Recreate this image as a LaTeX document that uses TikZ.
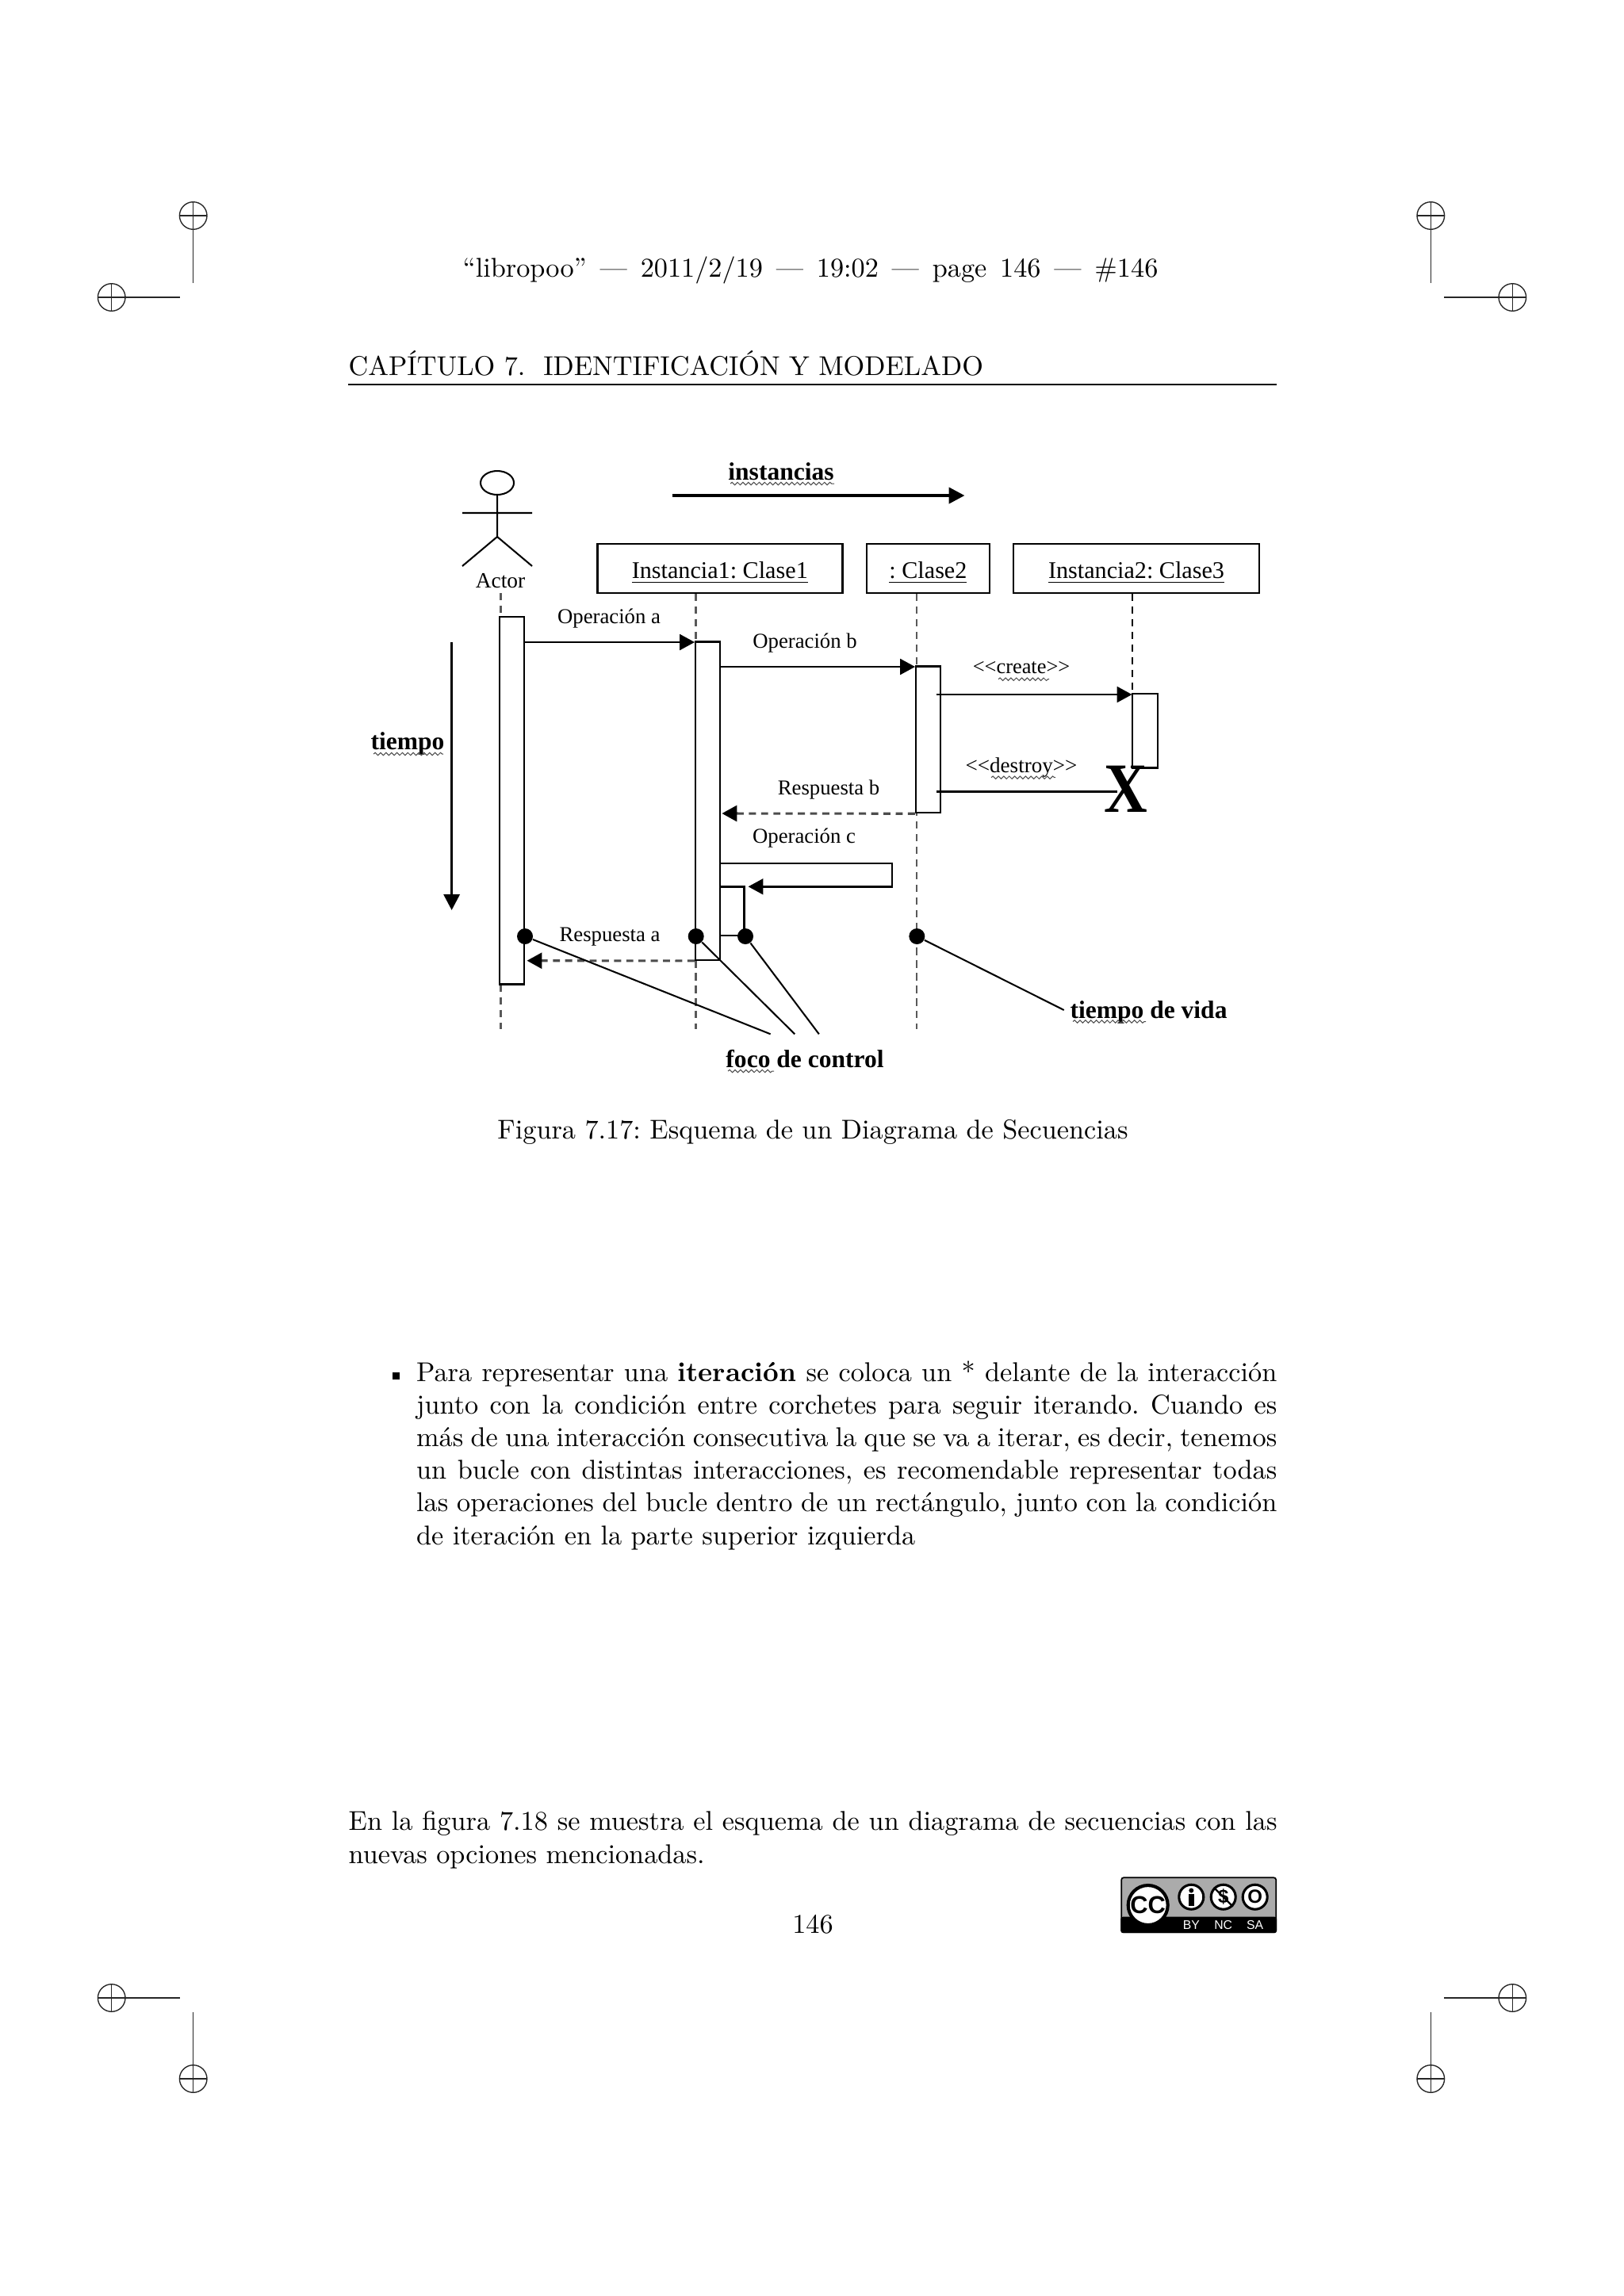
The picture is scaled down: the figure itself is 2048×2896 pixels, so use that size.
\documentclass[tikz,border=0pt]{standalone}
\usepackage{fontspec}
\newfontfamily\diagfont{Liberation Serif}
\newfontfamily\ccfont{Liberation Sans}
\usetikzlibrary{arrows.meta, positioning, decorations.pathmorphing}
\frenchspacing
\newcommand{\headgap}{\hspace{4.9pt}}

\begin{document}
\begin{tikzpicture}[x=0.29175pt, y=-0.29175pt,
  lbl/.style={font=\diagfont\fontsize{7.8}{9}\selectfont, anchor=base, inner sep=0pt},
  boxlbl/.style={draw, line width=.7pt, inner sep=0pt, font=\diagfont\fontsize{8.8}{11}\selectfont},
  boldlbl/.style={font=\diagfont\bfseries\fontsize{9.2}{11}\selectfont, anchor=base, inner sep=0pt},
  page/.style={font=\normalsize, anchor=base, inner sep=0pt},
  act/.style 2 args={draw, line width=.7pt, fill=white, inner sep=0pt, minimum width=#1*0.29175pt, minimum height=#2*0.29175pt},
  life/.style={dash pattern=on 2.7pt off 1.95pt, line width=.8pt, black!65},
  call/.style={-{Triangle[length=5.5pt,width=5.8pt]}, line width=.7pt},
  reply/.style={-{Triangle[length=5.5pt,width=5.8pt,color=black]}, dash pattern=on 2.6pt off 1.9pt, line width=.9pt, black!70},
  big/.style={-{Triangle[length=5.8pt,width=5.8pt]}, line width=1pt},
  spot/.style={circle, fill=black, inner sep=0pt, minimum size=20*0.29175pt},
  wavy/.style={decorate, decoration={snake, amplitude=.5pt, segment length=2pt}, line width=.3pt, black!70},
  crop/.style={line width=.4pt, black!85}]

\path[use as bounding box, fill=white] (0,0) rectangle (2048,2896);
\foreach \cx/\cy/\ex/\ey in {243.7/272/243.7/357, 1804.3/272/1804.3/357, 243.7/2622/243.7/2538, 1804.3/2622/1804.3/2538, 140.7/375/226.7/375, 1907.3/375/1821/375, 140.7/2520/226.7/2520, 1907.3/2520/1821/2520}{\draw[crop] (\cx,\cy) circle [radius=17.3]; \draw[crop] (\cx-17.3,\cy)--(\cx+17.3,\cy); \draw[crop] (\cx,\cy-17.3)--(\cx,\cy+17.3); \draw[crop] (\cx,\cy)--(\ex,\ey);}

\node[page] (runHead) at (1022,349) {“libropoo”\headgap—\headgap 2011/2/19\headgap—\headgap 19:02\headgap—\headgap page\headgap 146\headgap—\headgap\#146};
\node[page, anchor=base west] (chapHead) at (439,473) {CAPÍTULO 7.\ \ IDENTIFICACIÓN Y MODELADO};
\draw[line width=.33pt] (439,485) -- (1610,485);

\begin{scope}[xshift=.3pt]
\draw[line width=.6pt] (626,609) ellipse [x radius=21, y radius=15];
\coordinate (neck) at (626,624); \coordinate (hip) at (626,677); \coordinate (armL) at (582,647); \coordinate (armR) at (670,647); \coordinate (legL) at (582,714); \coordinate (legR) at (670,714);
\draw[line width=.6pt] (neck)--(hip) (armL)--(armR) (legL)--(hip)--(legR);
\node[lbl, font=\diagfont\fontsize{8}{9}\selectfont] (actorLbl) at (630,741.7) {Actor};

\node[boxlbl, minimum width=309*0.29175pt, minimum height=62*0.29175pt] (boxOne) at (906.8,717) {\raisebox{-3.6pt}[0pt][0pt]{\underline{Instancia1: Clase1}}};
\node[boxlbl, minimum width=155*0.29175pt, minimum height=62*0.29175pt] (boxTwo) at (1169.4,717) {\raisebox{-3.6pt}[0pt][0pt]{\underline{: Clase2}}};
\node[boxlbl, minimum width=310*0.29175pt, minimum height=62*0.29175pt] (boxThree) at (1432,717) {\raisebox{-3.6pt}[0pt][0pt]{\underline{Instancia2: Clase3}}};

\coordinate (actorTop) at (630.3,748); \coordinate (actorEnd) at (630.3,1298); \coordinate (oneEnd) at (876.7,1298); \coordinate (twoEnd) at (1155,1298); \coordinate (threeEnd) at (1427.3,875);
\draw[life] (actorTop)--(actorEnd); \draw[life] (boxOne.south -| oneEnd)--(oneEnd); \draw[life] (boxTwo.south -| twoEnd)--(twoEnd);
\draw[dash pattern=on 2.7pt off 1.95pt, line width=.5pt] (boxThree.south -| threeEnd)--(threeEnd);

\node[act={31.4}{463.7}] (actActor) at (644.4,1009.8) {};
\node[act={31}{401.4}] (actOne) at (891.5,1010) {};
\node[act={31}{184.7}] (actTwo) at (1169.5,932.7) {};
\node[act={31.5}{93.3}] (actThree) at (1443,921.7) {};
\node[act={30.4}{61.7}] (actSelf) at (922.2,1149.2) {};

\coordinate (timeTop) at (568.6,810); \coordinate (timeEnd) at (568.6,1148); \draw[big] (timeTop)--(timeEnd);
\coordinate (instStart) at (846.6,625); \coordinate (instEnd) at (1215.5,625); \draw[big, line width=1.2pt] (instStart)--(instEnd);
\node[boldlbl] (tiempoLbl) at (513,945) {tiempo};
\node[boldlbl] (instLbl) at (984,605) {instancias};
\draw[wavy] (470,951)--(558,951); \draw[wavy] (920,610)--(1051,610);

\coordinate (opAEnd) at (875,810); \draw[call] (actActor.east |- opAEnd)--(opAEnd);
\coordinate (opBEnd) at (1153,841); \draw[call] (actOne.east |- opBEnd)--(opBEnd);
\coordinate (createStart) at (1179.6,876); \coordinate (createEnd) at (1426.5,876); \draw[call] (createStart)--(createEnd);
\coordinate (destroyStart) at (1179.6,998.7); \coordinate (destroyEnd) at (1408,998.7); \draw[line width=.8pt] (destroyStart)--(destroyEnd);
\coordinate (respBEnd) at (909.4,1026); \draw[reply] (actTwo.south west)--(respBEnd);
\coordinate (respAEnd) at (663.5,1211.7); \draw[reply] (actOne.south west)--(respAEnd);
\coordinate (selfOut) at (1123.7,1089); \coordinate (selfBack) at (1123.7,1118.3); \coordinate (selfEnd) at (942.6,1118.3);
\draw[call] (actOne.east |- selfOut)--(selfOut)--(selfBack)--(selfEnd);

\node[lbl] (opALbl) at (767,786.7) {Operación a};
\node[lbl] (opBLbl) at (1014,817) {Operación b};
\node[lbl] (respBLbl) at (1044,1002.7) {Respuesta b};
\node[lbl] (opCLbl) at (1013,1063.3) {Operación c};
\node[lbl] (respALbl) at (768,1187.3) {Respuesta a};
\node[lbl, font=\diagfont\fontsize{7.7}{9}\selectfont] (createLbl) at (1287,849) {<<create>>};
\node[lbl, font=\diagfont\fontsize{7.9}{9}\selectfont] (destroyLbl) at (1287,974) {<<destroy>>};
\draw[wavy] (1258,856.7)--(1322,856.7); \draw[wavy] (1249,980.7)--(1330,980.7);
\node[anchor=base, inner sep=0pt, xscale=.85, font=\diagfont\bfseries\fontsize{26}{28}\selectfont] (deathMark) at (1419,1024) {X};

\node[spot] (spotA) at (661,1181) {}; \node[spot] (spotB) at (876.7,1181) {}; \node[spot] (spotC) at (939,1181) {}; \node[spot] (spotD) at (1155.3,1181) {};
\coordinate (focA) at (970.6,1304.3); \coordinate (focB) at (1001.2,1304.3); \coordinate (focC) at (1031.8,1304.3); \coordinate (lifeTip) at (1340.7,1274);
\draw[line width=.6pt] (spotA)--(focA); \draw[line width=.6pt] (spotB)--(focB); \draw[line width=.6pt] (spotC)--(focC); \draw[line width=.6pt] (spotD)--(lifeTip);
\node[boldlbl] (focoLbl) at (1014,1346) {foco de control};
\node[boldlbl] (vidaLbl) at (1447.5,1284) {tiempo de vida};
\draw[wavy] (917,1351)--(975,1351); \draw[wavy] (1352,1288.5)--(1444,1288.5);
\end{scope}

\node[page] (caption) at (1025,1436) {Figura 7.17: Esquema de un Diagrama de Secuencias};
\node[fill=black, inner sep=0pt, minimum size=9*0.29175pt] (bullet) at (499,1735) {};
\node[anchor=north west, inner sep=0pt, text width=316.6pt, align=justify, font=\normalsize] (itemText) at (524.5,1716) {Para representar una \textbf{iteración} se coloca un * delante de la interacción\linebreak junto con la condición entre corchetes para seguir iterando. Cuando es\linebreak más de una interacción consecutiva la que se va a iterar, es decir, tenemos\linebreak un bucle con distintas interacciones, es recomendable representar todas\linebreak las operaciones del bucle dentro de un rectángulo, junto con la condición\linebreak de iteración en la parte superior izquierda};
\node[anchor=north west, inner sep=0pt, text width=341.6pt, align=justify, font=\normalsize] (closeText) at (439,2284) {En la figura 7.18 se muestra el esquema de un diagrama de secuencias con las\linebreak nuevas opciones mencionadas.};
\node[page] (pageNum) at (1025,2438) {146};

\node[draw=black, fill=black!33, rounded corners=.8pt, line width=.5pt, inner sep=0pt, minimum width=195*0.29175pt, minimum height=69*0.29175pt] (ccBadge) at (1511.7,2402.8) {};
\fill[black, rounded corners=.8pt] (ccBadge.west |- 0,2417.7) rectangle (ccBadge.south east);
\node[circle, draw=black, fill=white, line width=1.2pt, inner sep=0pt, minimum size=50*0.29175pt, font=\ccfont\bfseries\fontsize{9}{9}\selectfont] (ccRing) at (1447.7,2403) {CC};
\foreach \nm/\cx/\tx in {by/1502.3/BY, nc/1542.7/NC, sa/1582.7/SA}{\node[circle, draw=black, fill=white, line width=.9pt, inner sep=0pt, minimum size=31*0.29175pt] (\nm Ring) at (\cx,2392.7) {}; \node[text=white, inner sep=0pt, font=\ccfont\fontsize{4.6}{5}\selectfont] (\nm Txt) at (\cx,2428) {\tx};}
\node[circle, fill=black, inner sep=0pt, minimum size=6*0.29175pt] (byHead) at (1502.3,2384.5) {};
\node[fill=black, inner sep=0pt, minimum width=7*0.29175pt, minimum height=15*0.29175pt] (byBody) at (1502.3,2396.5) {};
\node[inner sep=0pt, font=\ccfont\bfseries\fontsize{7}{7}\selectfont] (ncSign) at (1542.7,2392.7) {\$};
\draw[line width=.7pt] (ncRing.north west)--(ncRing.south east);
\node[inner sep=0pt, font=\ccfont\bfseries\fontsize{7}{7}\selectfont] (saSign) at (1582.7,2392.7) {O};
\end{tikzpicture}
\end{document}
